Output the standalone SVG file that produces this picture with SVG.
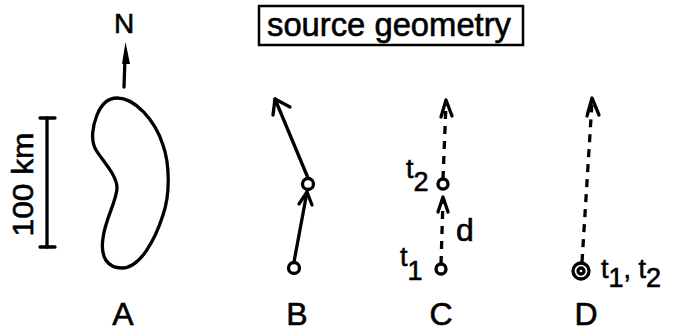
<svg xmlns="http://www.w3.org/2000/svg" width="684" height="332" viewBox="0 0 684 332">
<style>
text{font-family:"Liberation Sans",Arial,sans-serif;fill:#000;stroke:#000;stroke-width:0.6}
.ln{stroke:#000;stroke-width:3.3;fill:none;stroke-linecap:round;stroke-linejoin:round}
.ds{stroke:#000;stroke-width:3.3;fill:none;stroke-dasharray:8 7}
.lbl{font-size:32px;text-anchor:middle}
.t{font-size:27px}
</style>
<rect width="684" height="332" fill="#fff"/>
<g id="title">
<rect x="259" y="6" width="264" height="39" fill="none" stroke="#000" stroke-width="2.5"/>
<text x="267" y="36" font-size="33" textLength="244" lengthAdjust="spacingAndGlyphs">source geometry</text>
</g>
<g id="north">
<text x="124" y="33" font-size="28" text-anchor="middle">N</text>
<line class="ln" x1="124" y1="87" x2="125" y2="58"/>
<polygon points="125.5,42 130,64 122,64" fill="#000"/>
</g>
<g id="scale">
<line class="ln" x1="47" y1="118" x2="47" y2="247"/>
<line class="ln" x1="40" y1="118" x2="55" y2="118"/>
<line class="ln" x1="40" y1="247" x2="55" y2="247"/>
<text transform="translate(33,184.5) rotate(-90)" font-size="29" text-anchor="middle" textLength="104" lengthAdjust="spacingAndGlyphs">100 km</text>
</g>
<g id="A">
<path class="ln" d="M117,98 C135,98 155,120 163,145 C170,165 170,195 163,215 C155,240 140,268 122,268 C108,268 100,258 103,238 C105,220 117,200 117,188 C117,175 102,160 96,150 C90,140 93,125 97,115 C101,105 108,98 117,98 Z"/>
<text class="lbl" x="123" y="325">A</text>
</g>
<g id="B">
<circle class="ln" cx="308" cy="184" r="5.5"/>
<circle class="ln" cx="294" cy="268" r="5.5"/>
<text class="lbl" x="297" y="325">B</text>
</g>
<g id="C">
<circle class="ln" cx="443" cy="184" r="5"/>
<circle class="ln" cx="441" cy="269" r="5"/>
<text class="t" x="406" y="178">t<tspan dy="13">2</tspan></text>
<text class="t" x="400" y="266">t<tspan dy="14">1</tspan></text>
<text x="456" y="241" font-size="32">d</text>
<text class="lbl" x="441" y="325">C</text>
</g>
<g id="D">
<circle class="ln" cx="581" cy="271" r="8"/>
<circle class="ln" cx="581" cy="271" r="3" stroke-width="2.5"/>
<text class="t" x="601" y="278">t<tspan dy="9">1</tspan><tspan dy="-9">, t</tspan><tspan dy="9">2</tspan></text>
<text class="lbl" x="586" y="325">D</text>
</g>
<g id="connectors">
<line class="ln" x1="308" y1="178" x2="275" y2="99"/>
<polyline class="ln" points="290,107 275,99 273,115"/>
<line class="ln" x1="294" y1="262" x2="307" y2="192"/>
<polyline class="ln" points="299,204 307,192 312,205"/>
<line class="ds" x1="443" y1="179" x2="446" y2="104"/>
<polyline class="ln" points="441,117 446,100 452,116"/>
<line class="ds" x1="441" y1="264" x2="443" y2="200"/>
<polyline class="ln" points="438,212 443,197 448,212"/>
<line class="ds" x1="582" y1="262" x2="592" y2="102"/>
<polyline class="ln" points="587,116 592,98 599,115"/>
</g>
</svg>
